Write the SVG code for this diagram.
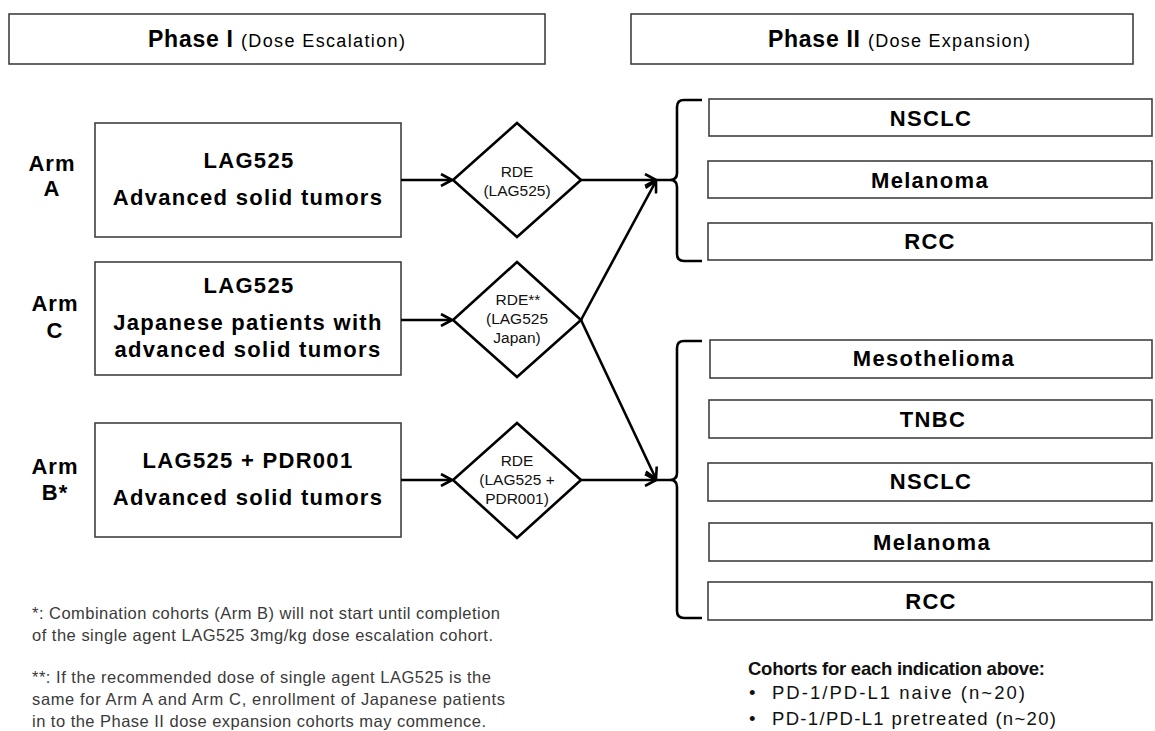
<svg xmlns="http://www.w3.org/2000/svg" width="1155" height="731" viewBox="0 0 1155 731">
<defs>
<marker id="arr" viewBox="0 0 14 14" refX="12" refY="7" markerWidth="14" markerHeight="14" markerUnits="userSpaceOnUse" orient="auto">
<path d="M1,1 L12,7 L1,13" fill="none" stroke="#000" stroke-width="2.6"/>
</marker>
<style>
.box{fill:#fff;stroke:#404040;stroke-width:1.6}
.dia{fill:#fff;stroke:#000;stroke-width:2.6}
.b{font-family:"Liberation Sans",Arial,sans-serif;font-weight:bold;font-size:22px;letter-spacing:1.3px;fill:#000;text-anchor:middle}
.a{font-family:"Liberation Sans",Arial,sans-serif;font-weight:bold;font-size:22px;letter-spacing:1px;fill:#000;text-anchor:middle}
.d{font-family:"Liberation Sans",Arial,sans-serif;font-size:15.5px;fill:#111;text-anchor:middle}
.n{font-family:"Liberation Sans",Arial,sans-serif;font-size:16.5px;fill:#3a3a3a}
.c{font-family:"Liberation Sans",Arial,sans-serif;font-size:18.5px;fill:#111}
.h{font-family:"Liberation Sans",Arial,sans-serif;fill:#000}
.ln{fill:none;stroke:#000;stroke-width:2.6}
</style>
</defs>
<rect width="1155" height="731" fill="#fff"/>

<g id="phase1">
<rect class="box" x="9" y="14" width="536" height="50"/>
<text class="h" x="148" y="47" font-weight="bold" font-size="23" textLength="85" lengthAdjust="spacing">Phase I</text>
<text class="h" x="241" y="47" font-size="18" textLength="164" lengthAdjust="spacing">(Dose Escalation)</text>
</g>
<g id="phase2">
<rect class="box" x="631" y="14" width="502" height="50"/>
<text class="h" x="768" y="47" font-weight="bold" font-size="23" textLength="92" lengthAdjust="spacing">Phase II</text>
<text class="h" x="868" y="47" font-size="18" textLength="162" lengthAdjust="spacing">(Dose Expansion)</text>
</g>

<g id="armA-label"><text class="a" x="52" y="171">Arm</text><text class="a" x="52" y="196">A</text></g>
<g id="armC-label"><text class="a" x="55" y="311">Arm</text><text class="a" x="55" y="338">C</text></g>
<g id="armB-label"><text class="a" x="55" y="474">Arm</text><text class="a" x="55" y="500">B*</text></g>

<g id="armA">
<rect class="box" x="95" y="123" width="306" height="114"/>
<text class="b" x="249" y="168">LAG525</text>
<text class="b" x="248" y="205">Advanced solid tumors</text>
</g>
<g id="armC">
<rect class="box" x="95" y="262" width="306" height="113"/>
<text class="b" x="249" y="293">LAG525</text>
<text class="b" x="248" y="330">Japanese patients with</text>
<text class="b" x="248" y="357">advanced solid tumors</text>
</g>
<g id="armB">
<rect class="box" x="95" y="423" width="306" height="114"/>
<text class="b" x="248" y="468">LAG525 + PDR001</text>
<text class="b" x="248" y="505">Advanced solid tumors</text>
</g>

<g id="rdeA">
<polygon class="dia" points="517,123 581,180 517,237 453,180"/>
<text class="d" x="517" y="177">RDE</text>
<text class="d" x="517" y="196">(LAG525)</text>
</g>
<g id="rdeC">
<polygon class="dia" points="517,262 581,320 517,377 453,320"/>
<text class="d" x="518" y="305">RDE**</text>
<text class="d" x="517" y="324">(LAG525</text>
<text class="d" x="517" y="343">Japan)</text>
</g>
<g id="rdeB">
<polygon class="dia" points="517,423 581,480 517,538 453,480"/>
<text class="d" x="517" y="466">RDE</text>
<text class="d" x="517" y="485">(LAG525 +</text>
<text class="d" x="517" y="504">PDR001)</text>
</g>

<g id="connectors">
<line class="ln" x1="401" y1="180" x2="452" y2="180" marker-end="url(#arr)"/>
<line class="ln" x1="401" y1="320" x2="452" y2="320" marker-end="url(#arr)"/>
<line class="ln" x1="401" y1="480" x2="452" y2="480" marker-end="url(#arr)"/>
<line class="ln" x1="581" y1="180" x2="656" y2="180" marker-end="url(#arr)"/>
<line class="ln" x1="581" y1="320" x2="656" y2="181" marker-end="url(#arr)"/>
<line class="ln" x1="581" y1="320" x2="656" y2="479" marker-end="url(#arr)"/>
<line class="ln" x1="581" y1="480" x2="656" y2="480" marker-end="url(#arr)"/>
<path class="ln" d="M702,100 L684,100 Q677,100 677,107 L677,173 Q677,180 670,180 L655,180 M670,180 Q677,180 677,187 L677,254 Q677,261 684,261 L702,261"/>
<path class="ln" d="M702,341 L684,341 Q677,341 677,348 L677,473 Q677,480 670,480 L655,480 M670,480 Q677,480 677,487 L677,611 Q677,618 684,618 L702,618"/>
</g>

<g id="p2-nsclc-1"><rect class="box" x="709" y="99" width="443" height="37"/><text class="b" x="931" y="126">NSCLC</text></g>
<g id="p2-melanoma-1"><rect class="box" x="708" y="161" width="444" height="37"/><text class="b" x="930" y="188">Melanoma</text></g>
<g id="p2-rcc-1"><rect class="box" x="708" y="223" width="444" height="37"/><text class="b" x="930" y="249">RCC</text></g>

<g id="p2-meso"><rect class="box" x="710" y="340" width="442" height="38"/><text class="b" x="934" y="366">Mesothelioma</text></g>
<g id="p2-tnbc"><rect class="box" x="709" y="400" width="443" height="38"/><text class="b" x="933" y="427">TNBC</text></g>
<g id="p2-nsclc-2"><rect class="box" x="708" y="463" width="444" height="38"/><text class="b" x="931" y="489">NSCLC</text></g>
<g id="p2-melanoma-2"><rect class="box" x="709" y="523" width="443" height="38"/><text class="b" x="932" y="550">Melanoma</text></g>
<g id="p2-rcc-2"><rect class="box" x="708" y="582" width="444" height="38"/><text class="b" x="931" y="609">RCC</text></g>

<g id="footnotes">
<text class="n" x="32" y="619" textLength="468" lengthAdjust="spacing">*: Combination cohorts (Arm B) will not start until completion</text>
<text class="n" x="32" y="641" textLength="461" lengthAdjust="spacing">of the single agent LAG525 3mg/kg dose escalation cohort.</text>
<text class="n" x="32" y="683" textLength="459" lengthAdjust="spacing">**: If the recommended dose of single agent LAG525 is the</text>
<text class="n" x="32" y="705" textLength="473" lengthAdjust="spacing">same for Arm A and Arm C, enrollment of Japanese patients</text>
<text class="n" x="32" y="727" textLength="454" lengthAdjust="spacing">in to the Phase II dose expansion cohorts may commence.</text>
</g>

<g id="cohorts">
<text class="c" x="748" y="675" font-weight="bold" font-size="18" textLength="297" lengthAdjust="spacing">Cohorts for each indication above:</text>
<text class="c" x="749" y="699">•</text><text class="c" x="772" y="699" textLength="253" lengthAdjust="spacing">PD-1/PD-L1 naive (n~20)</text>
<text class="c" x="749" y="725">•</text><text class="c" x="772" y="725" textLength="284" lengthAdjust="spacing">PD-1/PD-L1 pretreated (n~20)</text>
</g>
</svg>
